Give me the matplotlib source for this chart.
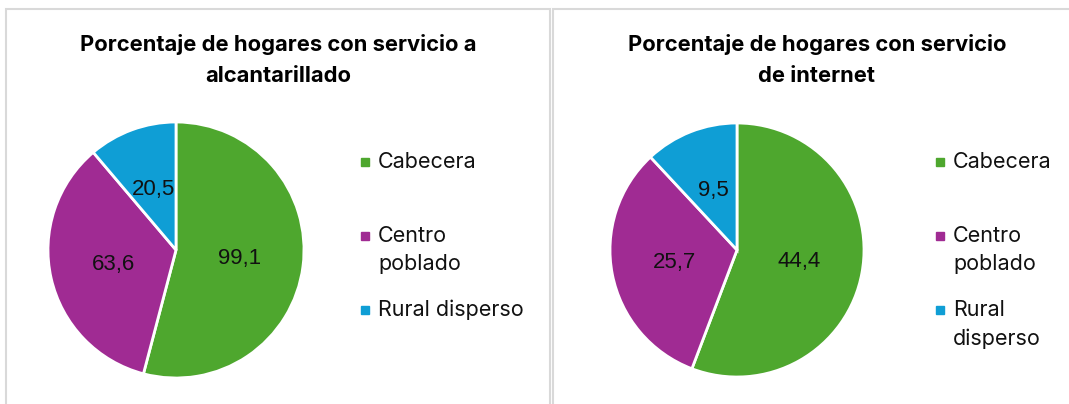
import matplotlib.pyplot as plt
from matplotlib.patches import Rectangle
import numpy as np

categories = ['Cabecera', 'Centro\npoblado', 'Rural disperso']
categories_right = ['Cabecera', 'Centro\npoblado', 'Rural\ndisperso']
alcantarillado = [99.1, 63.6, 20.5]
internet = [44.4, 25.7, 9.5]
title_left = 'Porcentaje de hogares con servicio a\nalcantarillado'
title_right = 'Porcentaje de hogares con servicio\nde internet'
colors = ['#4EA72E', '#A02B93', '#0F9ED5']

W, H = 1069, 404
fig = plt.figure(figsize=(W / 100, H / 100), dpi=100)
fig.patch.set_facecolor('white')

# panel borders
border = '#D9D9D9'
fig.add_artist(Rectangle((6 / W, -0.1), 544 / W, 1.1 - 9.5 / H, transform=fig.transFigure,
                         fill=False, edgecolor=border, lw=1.5))
fig.add_artist(Rectangle((553 / W, -0.1), 600 / W, 1.1 - 9.5 / H, transform=fig.transFigure,
                         fill=False, edgecolor=border, lw=1.5))

title_font = ['Inter', 'DejaVu Sans']
text_font = ['Inter', 'DejaVu Sans']
label_font = ['Liberation Sans', 'DejaVu Sans']


def draw_panel(cx, cy, r, values, labels, title, tx, legend_x, legend_ys):
    ax = fig.add_axes([(cx - r) / W, 1 - (cy + r) / H, 2 * r / W, 2 * r / H])
    wedges, _ = ax.pie(values, colors=colors, startangle=90, counterclock=False,
                       wedgeprops=dict(edgecolor='white', linewidth=2))
    ax.set_xlim(-1, 1)
    ax.set_ylim(-1, 1)
    ax.axis('off')
    for w, v in zip(wedges, values):
        ang = np.deg2rad((w.theta1 + w.theta2) / 2)
        ax.text(0.5 * np.cos(ang), 0.5 * np.sin(ang), f'{v:.1f}'.replace('.', ','),
                ha='center', va='center', fontsize=16, family=label_font, color='#111111')
    fig.text(tx / W, 1 - 60 / H, title, ha='center', va='center', fontsize=15.8,
             fontweight='bold', family=title_font, linespacing=1.65)
    for lab, col, ly in zip(labels, colors, legend_ys):
        fig.add_artist(Rectangle((legend_x / W, 1 - (ly + 4) / H), 8 / W, 8 / H,
                                 transform=fig.transFigure, color=col))
        nlines = lab.count('\n')
        fig.text((legend_x + 17) / W, 1 - (ly + 14.5 * nlines) / H, lab, ha='left', va='center',
                 fontsize=15.5, family=text_font, color='#111111', linespacing=1.5)


draw_panel(176, 250, 128, alcantarillado, categories, title_left, 278,
           361, [162, 236, 310])
draw_panel(737, 250, 127, internet, categories_right, title_right, 817,
           936, [162, 236, 310])

fig.savefig('out.png', dpi=100)
